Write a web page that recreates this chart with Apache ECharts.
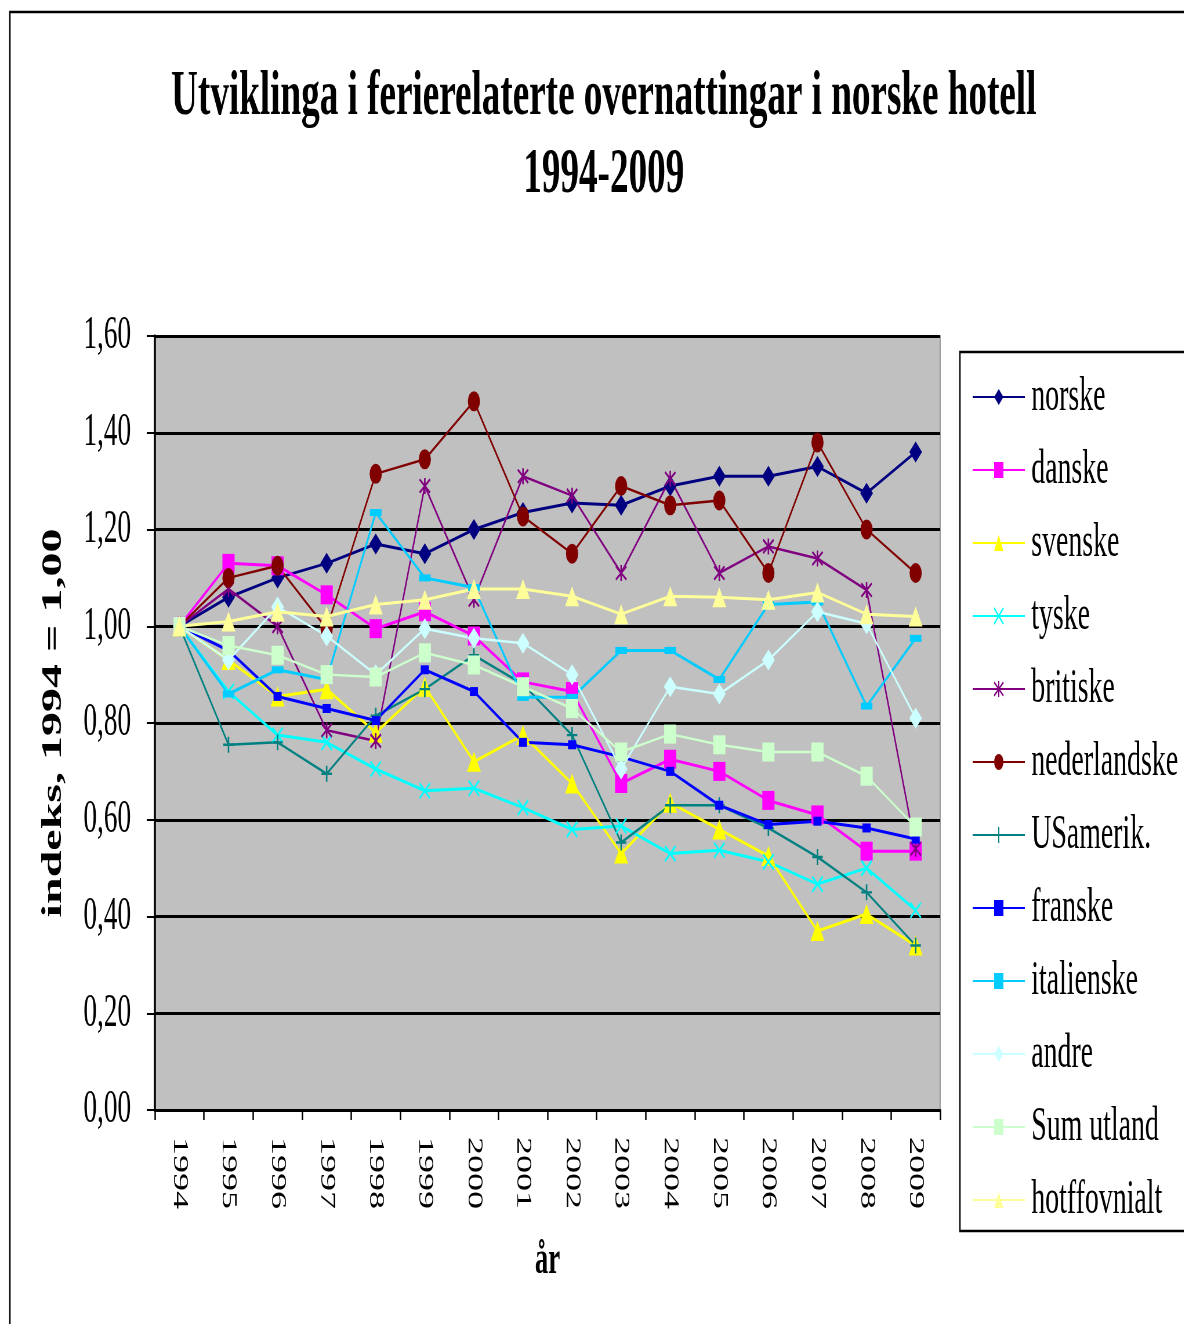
<!DOCTYPE html>
<html>
<head>
<meta charset="utf-8">
<script src="https://cdn.jsdelivr.net/npm/echarts@6/dist/echarts.min.js"></script>
<style>
html,body{margin:0;padding:0;background:#fff;overflow:hidden;width:1184px;height:1324px;}
#chart{width:2041px;height:1324px;transform:scaleX(0.58);transform-origin:0 0;}
</style>
</head>
<body>
<div id="chart"></div>
<script>
const years = ['1994','1995','1996','1997','1998','1999','2000','2001','2002','2003','2004','2005','2006','2007','2008','2009'];
const yTicks = [0, 0.2, 0.4, 0.6, 0.8, 1.0, 1.2, 1.4, 1.6];
const norske       = [1.00,1.06,1.10,1.13,1.17,1.15,1.20,1.235,1.255,1.25,1.29,1.31,1.31,1.33,1.275,1.36];
const danske       = [1.00,1.13,1.125,1.065,0.995,1.03,0.98,0.885,0.865,0.675,0.725,0.70,0.64,0.61,0.535,0.535];
const svenske      = [1.00,0.93,0.855,0.87,0.78,0.875,0.72,0.775,0.675,0.53,0.635,0.58,0.525,0.37,0.405,0.34];
const tyske        = [1.00,0.865,0.775,0.76,0.705,0.66,0.665,0.625,0.58,0.587,0.53,0.537,0.513,0.467,0.50,0.413];
const britiske     = [1.00,1.077,1.00,0.785,0.763,1.29,1.055,1.31,1.27,1.11,1.305,1.11,1.165,1.14,1.075,0.54];
const nederlandske = [1.00,1.10,1.125,0.995,1.315,1.345,1.465,1.227,1.15,1.29,1.25,1.26,1.11,1.38,1.20,1.11];
const usamerik     = [1.00,0.755,0.76,0.695,0.815,0.87,0.94,0.88,0.775,0.553,0.63,0.63,0.583,0.523,0.45,0.34];
const franske      = [1.00,0.95,0.855,0.83,0.805,0.91,0.865,0.76,0.755,0.73,0.70,0.63,0.59,0.597,0.583,0.56];
const italienske   = [1.00,0.86,0.91,0.89,1.235,1.10,1.08,0.853,0.853,0.95,0.95,0.89,1.045,1.05,0.835,0.975];
const andre        = [1.00,0.93,1.04,0.98,0.90,0.995,0.975,0.965,0.90,0.705,0.875,0.86,0.93,1.03,1.005,0.81];
const sumUtland    = [1.00,0.96,0.94,0.90,0.895,0.945,0.92,0.875,0.83,0.74,0.777,0.755,0.74,0.74,0.69,0.585];
const hotffovnialt = [1.00,1.01,1.03,1.02,1.045,1.055,1.077,1.077,1.062,1.025,1.062,1.06,1.055,1.07,1.025,1.02];

const FONT = '"Liberation Serif", "Times New Roman", serif';
const X_PATH = 'path://M0,0L10,10M10,0L0,10';
const STAR_PATH = 'path://M0,0L10,10M10,0L0,10M5,-1L5,11';
const PLUS_PATH = 'path://M5,0L5,10M0,5L10,5';

function mk(name, data, color, symbol, size, lw, stroke) {
  const s = {
    name: name, type: 'line', data: data,
    symbol: symbol, symbolSize: size,
    lineStyle: {color: color, width: lw},
    itemStyle: {color: color},
    emphasis: {disabled: true},
    animation: false
  };
  if (stroke) {
    s.itemStyle = {color: color, borderColor: color, borderWidth: stroke};
  }
  return s;
}

const series = [
  mk('norske', norske, '#000080', 'diamond', [22,21], 3),
  mk('danske', danske, '#FF00FF', 'rect', [21,19], 3),
  mk('svenske', svenske, '#FFFF00', 'triangle', [24,20], 3),
  mk('tyske', tyske, '#00FFFF', X_PATH, [18,15], 3, 2.5),
  mk('britiske', britiske, '#800080', STAR_PATH, [18,16], 2.5, 2.5),
  mk('nederlandske', nederlandske, '#800000', 'circle', [21,20], 2.5),
  mk('USamerik.', usamerik, '#008080', PLUS_PATH, [18,16], 2.5, 2.5),
  mk('franske', franske, '#0000FF', 'rect', [14,9], 3),
  mk('italienske', italienske, '#00CCFF', 'rect', [20,7], 3),
  mk('andre', andre, '#CCFFFF', 'diamond', [22,21], 2.5),
  mk('Sum utland', sumUtland, '#CCFFCC', 'rect', [21,19], 2.5),
  mk('hotffovnialt', hotffovnialt, '#FFFF99', 'triangle', [24,20], 3)
];

const chart = echarts.init(document.getElementById('chart'), null, {renderer: 'canvas'});
chart.setOption({
  animation: false,
  backgroundColor: '#ffffff',
  title: {
    text: 'Utviklinga i ferierelaterte overnattingar i norske hotell\n1994-2009',
    left: 1041,
    top: 58,
    textAlign: 'center',
    padding: 0,
    textStyle: {fontFamily: FONT, fontWeight: 'bold', fontSize: 64, lineHeight: 78, color: '#000'}
  },
  graphic: [{
    type: 'rect', silent: true, z: -1,
    shape: {x: 17, y: 12, width: 4000, height: 3000},
    style: {fill: 'none', stroke: '#000', lineWidth: 2.5}
  }],
  legend: {
    orient: 'vertical',
    left: 1655, top: 352,
    padding: [17, 400, 3, 21],
    itemWidth: 90, itemHeight: 20, itemGap: 17,
    borderColor: '#000', borderWidth: 2.5,
    backgroundColor: '#fff',
    textStyle: {fontFamily: FONT, fontSize: 48, lineHeight: 56, color: '#000', padding: [0,0,0,6]},
    data: series.map(s => s.name)
  },
  grid: {left: 267, top: 336, width: 1354, height: 774, show: true, backgroundColor: '#C0C0C0', borderColor: '#808080', borderWidth: 1.5},
  xAxis: {
    type: 'category', data: years, boundaryGap: true,
    name: 'år', nameLocation: 'middle', nameGap: 128,
    nameTextStyle: {fontFamily: FONT, fontWeight: 'bold', fontSize: 46, color: '#000'},
    axisLine: {lineStyle: {color: '#000', width: 3}},
    axisTick: {show: true, alignWithLabel: false, length: 10, lineStyle: {color: '#000', width: 2.5}},
    axisLabel: {interval: 0, rotate: -90, margin: 27, fontFamily: FONT, fontSize: 36, color: '#000'},
    splitLine: {show: false}
  },
  yAxis: {
    type: 'value', min: 0, max: 1.6, interval: 0.2,
    name: 'indeks, 1994 = 1,00', nameLocation: 'middle', nameGap: 150, nameRotate: 90,
    nameTextStyle: {fontFamily: FONT, fontWeight: 'bold', fontSize: 48, color: '#000'},
    axisLine: {show: true, lineStyle: {color: '#000', width: 3.5}},
    axisTick: {show: true, length: 14, lineStyle: {color: '#000', width: 2}},
    axisLabel: {
      margin: 41, fontFamily: FONT, fontSize: 47, color: '#000',
      formatter: v => (yTicks.some(t => Math.abs(t - v) < 1e-9) ? v.toFixed(2).replace('.', ',') : '')
    },
    splitLine: {show: true, lineStyle: {color: '#000', width: 3}}
  },
  series: series
});
</script>
</body>
</html>
